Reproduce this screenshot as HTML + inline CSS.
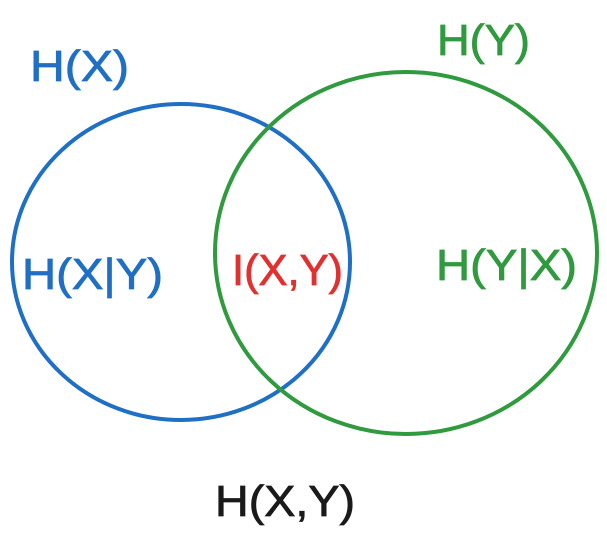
<!DOCTYPE html>
<html><head><meta charset="utf-8"><style>
html,body{margin:0;padding:0;background:#fff;}
svg{display:block;}
text{font-family:"Liberation Sans",sans-serif;font-size:44px;}
</style></head><body>
<svg id="venn" width="607" height="541" viewBox="0 0 607 541">
  <ellipse cx="181" cy="262" rx="169" ry="158" fill="none" stroke="#1f6fc5" stroke-width="4"/>
  <ellipse cx="406" cy="253" rx="191" ry="181" fill="none" stroke="#2f9a3e" stroke-width="4"/>
  <text x="30" y="81" textLength="99" lengthAdjust="spacingAndGlyphs" fill="#1f6fc5" stroke="#1f6fc5" stroke-width="0.8">H(X)</text>
  <text x="437" y="55" textLength="93" lengthAdjust="spacingAndGlyphs" fill="#2f9a3e" stroke="#2f9a3e" stroke-width="0.8">H(Y)</text>
  <text x="22" y="289" textLength="141" lengthAdjust="spacingAndGlyphs" fill="#1f6fc5" stroke="#1f6fc5" stroke-width="0.8">H(X|Y)</text>
  <text x="232" y="285" textLength="111" lengthAdjust="spacingAndGlyphs" fill="#e03030" stroke="#e03030" stroke-width="0.8">I(X,Y)</text>
  <text x="436" y="280" textLength="141" lengthAdjust="spacingAndGlyphs" fill="#2f9a3e" stroke="#2f9a3e" stroke-width="0.8">H(Y|X)</text>
  <text x="215" y="516" textLength="140" lengthAdjust="spacingAndGlyphs" fill="#1a1a1a" stroke="#1a1a1a" stroke-width="0.8">H(X,Y)</text>
</svg>
</body></html>
